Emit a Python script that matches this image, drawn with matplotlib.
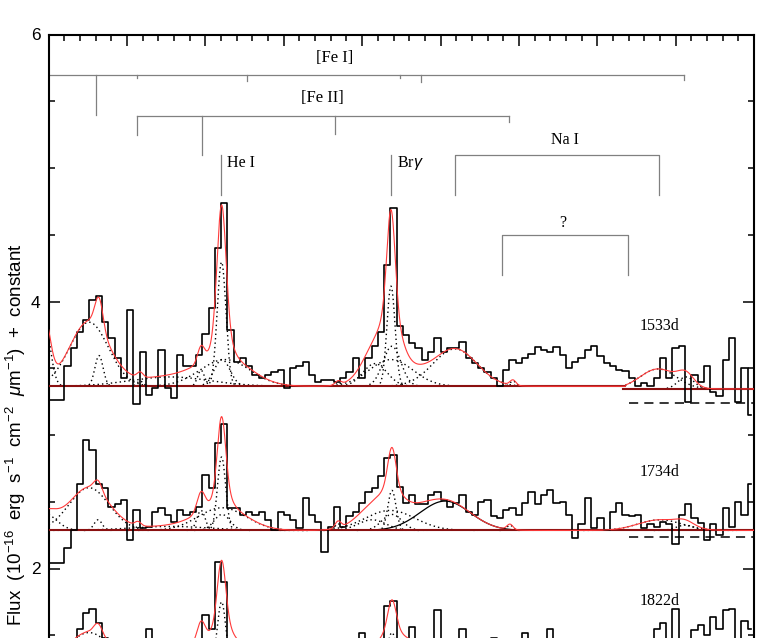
import numpy as np
import matplotlib
matplotlib.use("Agg")
import matplotlib.pyplot as plt
from matplotlib.ticker import MultipleLocator

plt.rcParams['font.family'] = ['Liberation Sans', 'DejaVu Sans']
plt.rcParams['mathtext.fontset'] = 'custom'
plt.rcParams['mathtext.rm'] = 'Liberation Sans'
plt.rcParams['mathtext.it'] = 'Liberation Sans:italic'

# ---------------- data ----------------
wavelength = np.round(1.950 + 0.004 * np.arange(113), 4)   # micron

flux_1533d = [3.26, 3.26, 3.26, 3.52, 3.65, 3.77, 3.86, 4.01, 4.04, 3.85,
              3.73, 3.58, 3.43, 3.94, 3.23, 3.62, 3.30, 3.35, 3.64, 3.35,
              3.28, 3.60, 3.52, 3.52, 3.60, 3.76, 3.95, 4.40, 4.74, 3.79,
              3.55, 3.58, 3.52, 3.45, 3.43, 3.45, 3.47, 3.49, 3.35, 3.50,
              3.52, 3.55, 3.45, 3.40, 3.41, 3.41, 3.40, 3.43, 3.47, 3.58,
              3.43, 3.58, 3.67, 3.77, 4.27, 4.70, 3.82, 3.75, 3.69, 3.65,
              3.56, 3.62, 3.73, 3.62, 3.65, 3.65, 3.70, 3.58, 3.54, 3.50,
              3.47, 3.43, 3.37, 3.49, 3.56, 3.54, 3.58, 3.61, 3.66, 3.64,
              3.62, 3.66, 3.60, 3.50, 3.55, 3.58, 3.64, 3.67, 3.59, 3.54,
              3.52, 3.49, 3.48, 3.43, 3.37, 3.39, 3.37, 3.43, 3.58, 3.43,
              3.65, 3.67, 3.25, 3.45, 3.40, 3.52, 3.32, 3.29, 3.56, 3.73,
              3.25, 3.50, 3.15]

flux_1734d = [2.04, 2.04, 2.04, 2.15, 2.29, 2.63, 2.96, 2.89, 2.63, 2.60,
              2.46, 2.48, 2.51, 2.21, 2.44, 2.30, 2.31, 2.42, 2.45, 2.40,
              2.35, 2.44, 2.40, 2.42, 2.46, 2.70, 2.60, 2.94, 3.08, 2.45,
              2.45, 2.40, 2.42, 2.40, 2.42, 2.36, 2.29, 2.42, 2.40, 2.36,
              2.30, 2.53, 2.40, 2.35, 2.12, 2.31, 2.46, 2.31, 2.39, 2.42,
              2.49, 2.57, 2.60, 2.69, 2.83, 2.85, 2.61, 2.49, 2.55, 2.48,
              2.48, 2.55, 2.57, 2.51, 2.46, 2.49, 2.55, 2.42, 2.40, 2.50,
              2.51, 2.39, 2.38, 2.44, 2.45, 2.40, 2.49, 2.57, 2.48, 2.55,
              2.59, 2.49, 2.50, 2.40, 2.23, 2.33, 2.53, 2.30, 2.38, 2.29,
              2.42, 2.49, 2.40, 2.39, 2.40, 2.30, 2.33, 2.31, 2.35, 2.33,
              2.18, 2.40, 2.48, 2.38, 2.34, 2.21, 2.33, 2.25, 2.45, 2.31,
              2.50, 2.40, 2.63]

flux_1822d = [1.40, 1.40, 1.40, 1.40, 1.45, 1.55, 1.67, 1.70, 1.59, 1.48,
              1.42, 1.40, 1.40, 1.40, 1.40, 1.40, 1.55, 1.40, 1.40, 1.40,
              1.40, 1.40, 1.40, 1.40, 1.40, 1.65, 1.55, 2.05, 1.90, 1.45,
              1.40, 1.40, 1.40, 1.40, 1.40, 1.40, 1.40, 1.40, 1.40, 1.40,
              1.40, 1.40, 1.40, 1.40, 1.40, 1.40, 1.40, 1.40, 1.40, 1.40,
              1.52, 1.40, 1.40, 1.40, 1.72, 1.76, 1.45, 1.40, 1.56, 1.45,
              1.40, 1.40, 1.69, 1.42, 1.40, 1.40, 1.55, 1.42, 1.40, 1.40,
              1.40, 1.48, 1.40, 1.40, 1.40, 1.40, 1.52, 1.40, 1.40, 1.40,
              1.55, 1.45, 1.40, 1.40, 1.40, 1.40, 1.40, 1.40, 1.40, 1.40,
              1.40, 1.40, 1.40, 1.40, 1.40, 1.40, 1.40, 1.55, 1.59, 1.42,
              1.70, 1.45, 1.40, 1.54, 1.58, 1.50, 1.64, 1.55, 1.69, 1.70,
              1.45, 1.61, 1.55]

epochs = ["1533d", "1734d", "1822d"]
epoch_label_y = [3.82, 2.72, 1.76]
epoch_label_x = 2.3395

# continuum levels of the fits
cont_1533d = 3.365
cont_1533d_red = 3.345
cont_1734d = 2.285
cont_1822d = 1.30
split_1533d = 2.318          # boundary between the two fitted regions of 1533d

# dashed reference levels (red end)
dash_levels = [3.237, 2.238]
dash_start = 2.3203

# Gaussian components: centre (micron), amplitude, sigma (micron)
g1533_cen = [1.9470, 1.9757, 1.9821, 2.0083, 2.0274, 2.0472, 2.0603, 2.0606,
             2.0625, 2.1346, 2.1582, 2.1684, 2.1690, 2.1684, 2.2092, 2.2462]
g1533_amp = [0.50, 0.48, 0.23, 0.04, 0.07, 0.12, 0.93, 0.20,
             0.20, 0.03, 0.17, 0.75, 0.30, 0.20, 0.28, 0.04]
g1533_sig = [0.0038, 0.0124, 0.0026, 0.0019, 0.0255, 0.0022, 0.0028, 0.0051,
             0.0160, 0.0019, 0.0077, 0.0026, 0.0057, 0.0140, 0.0140, 0.0019]

g1533r_cen = [2.3388, 2.3566]
g1533r_amp = [0.15, 0.09]
g1533r_sig = [0.0115, 0.0051]

g1734_cen = [1.9470, 1.9757, 1.9815, 2.0070, 2.0274, 2.0472, 2.0603, 2.0606,
             2.0606, 2.1346, 2.1563, 2.1690, 2.1690, 2.1678, 2.2029, 2.2443,
             2.3400, 2.3560]
g1734_amp = [0.13, 0.32, 0.08, 0.03, 0.03, 0.15, 0.55, 0.12,
             0.17, 0.05, 0.08, 0.30, 0.12, 0.15, 0.22, 0.04,
             0.08, 0.04]
g1734_sig = [0.0077, 0.0128, 0.0026, 0.0019, 0.0255, 0.0026, 0.0026, 0.0051,
             0.0153, 0.0019, 0.0089, 0.0026, 0.0064, 0.0160, 0.0160, 0.0019,
             0.0140, 0.0057]
g1734_solid = 14      # broad Na I component drawn as a solid line

g1822_cen = [1.9757, 1.9815, 2.0274, 2.0472, 2.0603, 2.0606, 2.0606,
             2.1690, 2.1690, 2.1678, 2.2029]
g1822_amp = [0.22, 0.08, 0.05, 0.15, 0.45, 0.12, 0.17,
             0.22, 0.10, 0.13, 0.15]
g1822_sig = [0.0128, 0.0026, 0.0255, 0.0026, 0.0026, 0.0051, 0.0153,
             0.0026, 0.0064, 0.0160, 0.0160]

# line identifications
feI_label, feI_y, feI_end = "[Fe I]", 5.697, 2.3554
feI_ticks = [1.9802, 2.0063, 2.0765, 2.1741, 2.1875, 2.3554]
feI_tick_bottom = [5.397, 5.674, 5.652, 5.674, 5.644, 5.660]
feII_label, feII_y = "[Fe II]", 5.392
feII_ticks = [2.0063, 2.0478, 2.1327, 2.2437]
feII_tick_bottom = [5.247, 5.097, 5.251, 5.345]
single_lines = ["He I", r"Br$\gamma$"]
single_x = [2.0599, 2.1684]
single_top, single_bottom = 5.097, 4.798
nai_x = [2.2092, 2.3395]
nai_top, nai_bottom = 5.097, 4.798
unk_x = [2.2392, 2.3196]
unk_top, unk_bottom = 4.498, 4.198

# ---------------- figure ----------------
W, H = 784, 638
fig = plt.figure(figsize=(W / 100, H / 100), dpi=100)
ax = fig.add_axes([48.7 / W, 1 - 835.5 / H, 705.3 / W, 801 / H])
ax.set_xlim(1.95, 2.40)
ax.set_ylim(0, 6)

xf = np.linspace(1.95, 2.40, 3000)

def gsum(x, base, cen, amp, sig):
    y = np.full_like(x, base, dtype=float)
    for c, a, s in zip(cen, amp, sig):
        y = y + a * np.exp(-0.5 * ((x - c) / s) ** 2)
    return y

def comps(base, cen, amp, sig, lo, hi, solid=None):
    for k, (c, a, s) in enumerate(zip(cen, amp, sig)):
        x = np.linspace(max(c - 3.5 * s, lo), min(c + 3.5 * s, hi), 300)
        y = base + a * np.exp(-0.5 * ((x - c) / s) ** 2)
        if solid is not None and k == solid:
            ax.plot(x, y, color='black', lw=0.9, zorder=2)
        else:
            ax.plot(x, y, color='black', lw=1.0, ls=(0, (1, 2.2)), zorder=2)

RED = '#ff3a3a'
DARK = '#8a1010'

# components (dotted)
comps(cont_1533d, g1533_cen, g1533_amp, g1533_sig, 1.95, split_1533d)
comps(cont_1533d_red, g1533r_cen, g1533r_amp, g1533r_sig, split_1533d, 2.40)
comps(cont_1734d, g1734_cen, g1734_amp, g1734_sig, 1.95, 2.40, solid=g1734_solid)
comps(cont_1822d, g1822_cen, g1822_amp, g1822_sig, 1.95, 2.40)

# continua
ax.plot([1.95, split_1533d], [cont_1533d] * 2, color=DARK, lw=1.5, zorder=3)
ax.plot([2.3165, 2.40], [cont_1533d_red] * 2, color=DARK, lw=1.5, zorder=3)
ax.plot([1.95, 2.40], [cont_1734d] * 2, color=DARK, lw=1.5, zorder=3)
ax.plot([1.95, 2.40], [cont_1822d] * 2, color=DARK, lw=1.5, zorder=3)

# dashed levels
for lev in dash_levels:
    ax.plot([dash_start, 2.40], [lev, lev], color='black', lw=1.1,
            ls=(0, (6, 4)), zorder=3)

# observed spectra
for fl in (flux_1533d, flux_1734d, flux_1822d):
    ax.step(wavelength, fl, where='mid', color='black', lw=1.2, zorder=4)

# fits
m = xf <= split_1533d
ax.plot(xf[m], gsum(xf[m], cont_1533d, g1533_cen, g1533_amp, g1533_sig),
        color=RED, lw=0.8, zorder=5)
m = xf >= split_1533d
ax.plot(xf[m], gsum(xf[m], cont_1533d_red, g1533r_cen, g1533r_amp, g1533r_sig),
        color=RED, lw=0.8, zorder=5)
ax.plot(xf, gsum(xf, cont_1734d, g1734_cen, g1734_amp, g1734_sig),
        color=RED, lw=0.8, zorder=5)
ax.plot(xf, gsum(xf, cont_1822d, g1822_cen, g1822_amp, g1822_sig),
        color=RED, lw=0.8, zorder=5)

# epoch labels
SERIF = ['Liberation Serif', 'DejaVu Serif']
for lab, yy in zip(epochs, epoch_label_y):
    ax.text(epoch_label_x, yy, lab, ha='center', va='center',
            fontsize=11.5, family=SERIF, zorder=6)

# line identifications
GRAY = '0.5'
glw = 0.9
ax.plot([1.95, feI_end], [feI_y] * 2, color=GRAY, lw=glw)
for tx, tb in zip(feI_ticks, feI_tick_bottom):
    ax.plot([tx, tx], [feI_y, tb], color=GRAY, lw=glw)
ax.text(2.1327, 5.824, feI_label, ha='center', va='center', fontsize=12,
        family=SERIF)
ax.plot([feII_ticks[0], feII_ticks[-1]], [feII_y] * 2, color=GRAY, lw=glw)
for tx, tb in zip(feII_ticks, feII_tick_bottom):
    ax.plot([tx, tx], [feII_y, tb], color=GRAY, lw=glw)
ax.text(2.1244, 5.524, feII_label, ha='center', va='center', fontsize=12,
        family=SERIF)
for lab, sx in zip(single_lines, single_x):
    ax.plot([sx, sx], [single_top, single_bottom], color=GRAY, lw=glw)
    ax.text(sx + 0.0040, 5.037, lab, ha='left', va='center', fontsize=11.5,
            family=SERIF)
ax.plot([nai_x[0], nai_x[0], nai_x[1], nai_x[1]],
        [nai_bottom, nai_top, nai_top, nai_bottom], color=GRAY, lw=glw)
ax.text(2.2794, 5.21, "Na I", ha='center', va='center', fontsize=11.5,
        family=SERIF)
ax.plot([unk_x[0], unk_x[0], unk_x[1], unk_x[1]],
        [unk_bottom, unk_top, unk_top, unk_bottom], color=GRAY, lw=glw)
ax.text(2.2781, 4.588, "?", ha='center', va='center', fontsize=11.5,
        family=SERIF)

# axes styling
for sp in ax.spines.values():
    sp.set_linewidth(1.5)
ax.xaxis.set_major_locator(MultipleLocator(0.05))
ax.xaxis.set_minor_locator(MultipleLocator(0.01))
ax.yaxis.set_major_locator(MultipleLocator(2))
ax.yaxis.set_minor_locator(MultipleLocator(0.5))
ax.tick_params(which='both', direction='in', top=True, right=True,
               bottom=True, labelbottom=False, width=1.1)
ax.tick_params(which='major', length=8, pad=6, labelsize=12.5)
ax.tick_params(which='minor', length=4.3)
ax.set_yticks([0, 2, 4, 6])
ax.set_yticklabels(['', '2', '4', '6'])

ax.set_ylabel(r"Flux  (10$^{-16}$  erg  s$^{-1}$  cm$^{-2}$  $\mu$m$^{-1}$)  +  constant",
              fontsize=13.5)
ax.yaxis.set_label_coords(-0.030, 0.5)

fig.savefig("out.png", dpi=100)
